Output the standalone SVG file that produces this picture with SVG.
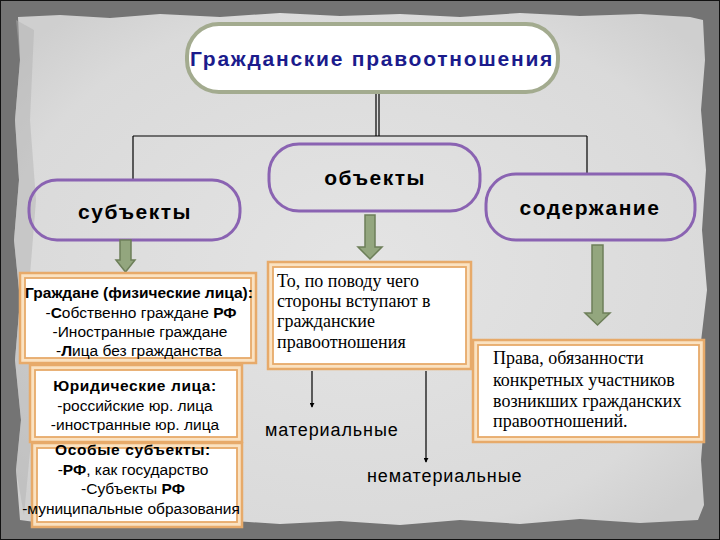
<svg xmlns="http://www.w3.org/2000/svg" width="720" height="540" viewBox="0 0 720 540">
<defs>
<style>
.lbl{font-family:"Liberation Sans",Arial,sans-serif;font-weight:bold;font-size:21px;letter-spacing:1.5px;fill:#000;text-anchor:middle}
.pill{fill:none;stroke:#8a63b2;stroke-width:3}
.sans{font-family:"Liberation Sans",Arial,sans-serif;font-size:15.5px;fill:#000;text-anchor:middle}
.serif{font-family:"Liberation Serif","Times New Roman",serif;font-size:18px;fill:#000}
.frameO{fill:#fae2c2;stroke:#e7aa6a;stroke-width:2.5}
.frameI{fill:#fff;stroke:#e7aa6a;stroke-width:1.8}
.garrow{fill:#93a67e;stroke:#6d7f59;stroke-width:1.5}
.conn{stroke:#000;stroke-width:1.2;fill:none}
.plain{font-family:"Liberation Sans",Arial,sans-serif;font-size:18px;letter-spacing:0.9px;fill:#000}
</style>
<marker id="tip" viewBox="0 0 6 6" refX="5" refY="3" markerWidth="5" markerHeight="5" orient="auto" markerUnits="userSpaceOnUse">
<path d="M0,0 L6,3 L0,6 Z" fill="#000"/>
</marker>
<radialGradient id="paper" cx="50%" cy="50%" r="65%">
<stop offset="0" stop-color="#e4e4e4"/>
<stop offset="0.8" stop-color="#dadada"/>
<stop offset="1" stop-color="#cfcfcf"/>
</radialGradient>
</defs>
<rect x="0" y="0" width="720" height="540" fill="#747474"/>
<rect x="0.5" y="0.5" width="719" height="539" fill="none" stroke="#111" stroke-width="1"/>
<polygon fill="url(#paper)" points="18,17 60,15 110,18 160,14 220,17 280,13 340,16 400,14 460,17 520,13 580,16 640,14 690,17 703,20 705,60 701,110 706,170 702,230 707,290 700,350 705,410 701,460 704,505 698,520 640,523 580,519 520,524 460,520 400,525 340,521 280,524 220,520 160,525 100,521 50,524 20,520 16,470 21,420 15,360 20,300 14,240 19,180 15,120 20,60"/>
<polygon fill="#b0b0b0" opacity="0.45" points="16,20 34,30 30,120 36,200 28,300 33,420 24,515 16,470 21,420 15,360 20,300 14,240 19,180 15,120 20,60"/>

<g id="connectors">
<line class="conn" x1="376" y1="93" x2="376" y2="136"/>
<line class="conn" x1="379" y1="93" x2="379" y2="136"/>
<line class="conn" x1="133" y1="136" x2="587" y2="136"/>
<line class="conn" x1="133" y1="136" x2="133" y2="179"/>
<line class="conn" x1="587" y1="136" x2="587" y2="174"/>
<line class="conn" x1="312" y1="371" x2="312" y2="407" stroke-width="1.6" marker-end="url(#tip)"/>
<line class="conn" x1="426" y1="371" x2="426" y2="462" stroke-width="1.6" marker-end="url(#tip)"/>
</g>

<g id="title">
<rect x="187" y="24" width="371" height="68" rx="32" fill="#fff" stroke="#a3ab8f" stroke-width="4"/>
<text x="372" y="66" font-family="Liberation Sans, Arial, sans-serif" font-weight="bold" font-size="21" letter-spacing="1.75" fill="#1b1b8c" text-anchor="middle">Гражданские правоотношения</text>
</g>

<g id="subjects">
<rect class="pill" x="29" y="180" width="211" height="60" rx="28"/>
<text class="lbl" x="135" y="219">субъекты</text>
</g>
<g id="objects">
<rect class="pill" x="269" y="144" width="211" height="67" rx="30"/>
<text class="lbl" x="375" y="185">объекты</text>
</g>
<g id="content">
<rect class="pill" x="486" y="174" width="209" height="66" rx="30"/>
<text class="lbl" x="590" y="215">содержание</text>
</g>

<g id="arrow-subjects"><path class="garrow" d="M120,240 H131 V260 H135 L125.5,272 L116,260 H120 Z"/></g>
<g id="arrow-objects"><path class="garrow" d="M365,215 H375 V247 H382 L370,259 L358,247 H365 Z"/></g>
<g id="arrow-content"><path class="garrow" d="M592,245 H603 V313 H610 L597.5,325 L585,313 H592 Z"/></g>

<g id="citizens">
<rect class="frameO" x="20" y="273" width="236" height="90"/>
<rect class="frameI" x="25" y="278" width="226" height="80"/>
<text class="sans" x="139" y="298" font-weight="bold">Граждане (физические лица):</text>
<text class="sans" x="141" y="318">-<tspan font-weight="bold">С</tspan>обственно граждане <tspan font-weight="bold">РФ</tspan></text>
<text class="sans" x="140" y="337">-Иностранные граждане</text>
<text class="sans" x="139" y="356">-<tspan font-weight="bold">Л</tspan>ица без гражданства</text>
</g>

<g id="legal">
<rect class="frameO" x="30" y="365" width="212" height="77"/>
<rect class="frameI" x="35" y="370" width="202" height="67"/>
<text class="sans" x="135" y="391" font-weight="bold" letter-spacing="0.6">Юридические лица:</text>
<text class="sans" x="135" y="411">-российские юр. лица</text>
<text class="sans" x="135" y="430">-иностранные юр. лица</text>
</g>

<g id="special">
<rect class="frameO" x="32" y="443" width="210" height="84"/>
<rect class="frameI" x="37" y="448" width="200" height="74"/>
<text class="sans" x="133" y="455" font-weight="bold" letter-spacing="0.6">Особые субъекты:</text>
<text class="sans" x="133" y="475">-<tspan font-weight="bold">РФ</tspan>, как государство</text>
<text class="sans" x="133" y="494">-Субъекты <tspan font-weight="bold">РФ</tspan></text>
<text class="sans" x="131" y="514">-муниципальные образования</text>
</g>

<g id="objects-desc">
<rect class="frameO" x="268" y="262" width="203" height="107"/>
<rect class="frameI" x="273" y="267" width="193" height="97"/>
<text class="serif" x="277" y="287">То, по поводу чего</text>
<text class="serif" x="277" y="307">стороны вступают в</text>
<text class="serif" x="277" y="327">гражданские</text>
<text class="serif" x="277" y="348">правоотношения</text>
</g>

<g id="content-desc">
<rect class="frameO" x="473" y="340" width="231" height="102"/>
<rect class="frameI" x="478" y="345" width="221" height="92"/>
<text class="serif" x="493" y="364">Права, обязанности</text>
<text class="serif" x="493" y="386">конкретных участников</text>
<text class="serif" x="493" y="407">возникших гражданских</text>
<text class="serif" x="493" y="427">правоотношений.</text>
</g>

<g id="material"><text class="plain" x="265" y="436">материальные</text></g>
<g id="immaterial"><text class="plain" x="367" y="482">нематериальные</text></g>
</svg>
